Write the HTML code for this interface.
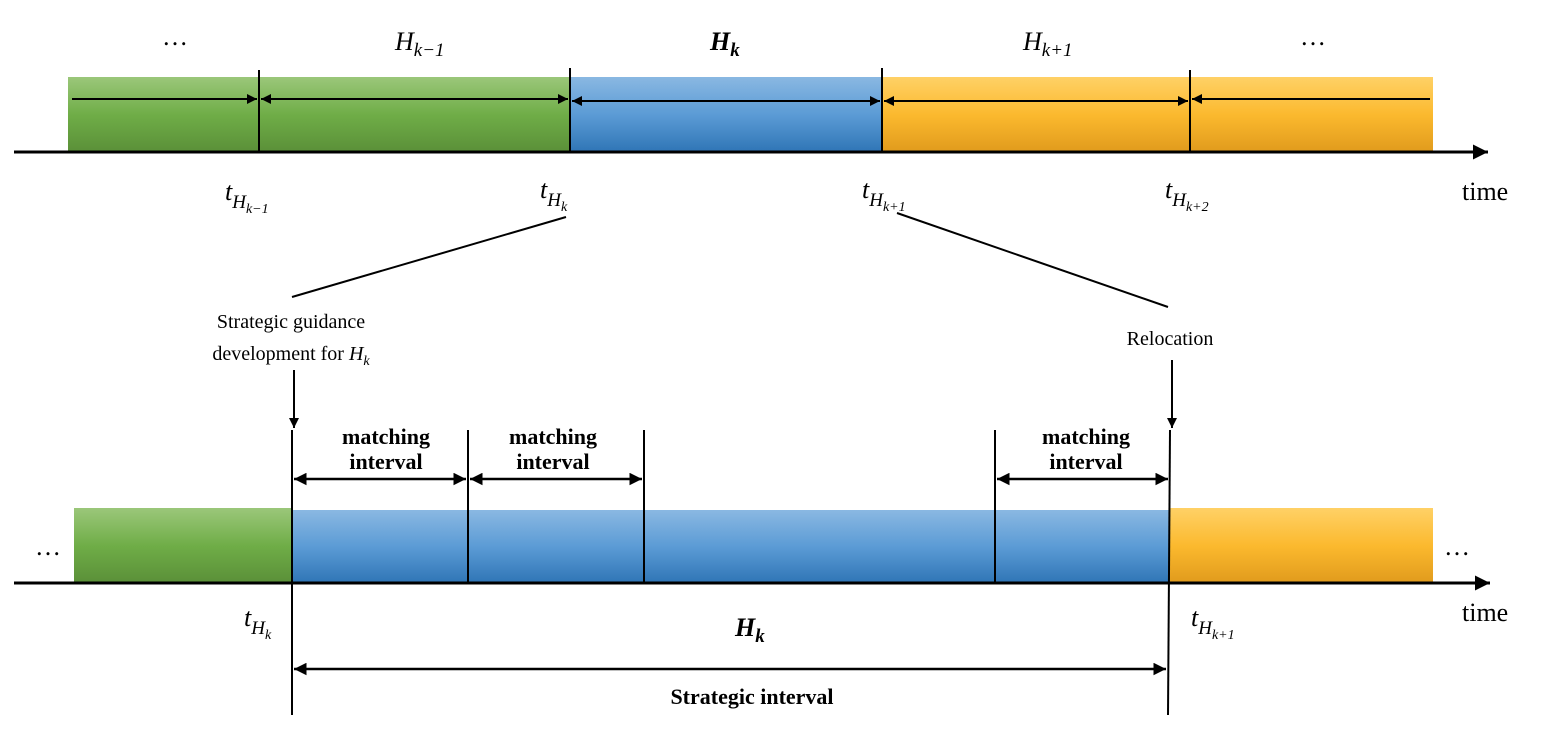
<!DOCTYPE html>
<html><head><meta charset="utf-8"><style>
html,body{margin:0;padding:0;background:#fff;}
svg{display:block;}
text{font-family:"Liberation Serif",serif;fill:#000;}
.m{font-style:italic;}
</style></head><body>
<svg width="1542" height="734" viewBox="0 0 1542 734" xmlns="http://www.w3.org/2000/svg">
<defs>
<linearGradient id="g" x1="0" y1="0" x2="0" y2="1"><stop offset="0" stop-color="#9bc77a"/><stop offset="0.5" stop-color="#6fad47"/><stop offset="1" stop-color="#5a8f38"/></linearGradient>
<linearGradient id="b" x1="0" y1="0" x2="0" y2="1"><stop offset="0" stop-color="#8ab8e2"/><stop offset="0.5" stop-color="#5b9bd5"/><stop offset="1" stop-color="#2e74b5"/></linearGradient>
<linearGradient id="o" x1="0" y1="0" x2="0" y2="1"><stop offset="0" stop-color="#ffd166"/><stop offset="0.5" stop-color="#fbb92e"/><stop offset="1" stop-color="#e09a1c"/></linearGradient>
<marker id="a" viewBox="0 0 10 10" refX="10" refY="5" markerWidth="5" markerHeight="5" orient="auto-start-reverse"><path d="M0,0L10,5L0,10z" fill="#000"/></marker>
</defs>
<!-- top bar -->
<rect x="68" y="77" width="502" height="76" fill="url(#g)"/>
<rect x="570" y="77" width="312" height="76" fill="url(#b)"/>
<rect x="882" y="77" width="551" height="76" fill="url(#o)"/>
<line x1="14" y1="152" x2="1488" y2="152" stroke="#000" stroke-width="3" marker-end="url(#a)"/>
<g stroke="#000" stroke-width="2">
<line x1="259" y1="70" x2="259" y2="153"/><line x1="570" y1="68" x2="570" y2="153"/>
<line x1="882" y1="68" x2="882" y2="153"/><line x1="1190" y1="70" x2="1190" y2="153"/>
</g>
<g stroke="#000" stroke-width="2" marker-end="url(#a)">
<line x1="72" y1="99" x2="257" y2="99"/>
<line x1="568" y1="99" x2="261" y2="99" marker-start="url(#a)"/>
<line x1="572" y1="101" x2="880" y2="101" marker-start="url(#a)"/>
<line x1="884" y1="101" x2="1188" y2="101" marker-start="url(#a)"/>
<line x1="1430" y1="99" x2="1192" y2="99"/>
</g>
<g font-size="26">
<text x="175" y="45" text-anchor="middle">…</text>
<text x="1313" y="45" text-anchor="middle">…</text>
<text x="395" y="50" class="m">H<tspan font-size="19" dy="6">k−1</tspan></text>
<text x="710" y="50" class="m" font-weight="bold">H<tspan font-size="19" dy="6">k</tspan></text>
<text x="1023" y="50" class="m">H<tspan font-size="19" dy="6">k+1</tspan></text>
<text x="225" y="200" class="m">t<tspan font-size="19" dy="8">H</tspan><tspan font-size="14" dy="5">k−1</tspan></text>
<text x="540" y="198" class="m">t<tspan font-size="19" dy="8">H</tspan><tspan font-size="14" dy="5">k</tspan></text>
<text x="862" y="198" class="m">t<tspan font-size="19" dy="8">H</tspan><tspan font-size="14" dy="5">k+1</tspan></text>
<text x="1165" y="198" class="m">t<tspan font-size="19" dy="8">H</tspan><tspan font-size="14" dy="5">k+2</tspan></text>
<text x="1462" y="200">time</text>
</g>
<g stroke="#000" stroke-width="2">
<line x1="566" y1="217" x2="292" y2="297"/>
<line x1="897" y1="213" x2="1168" y2="307"/>
</g>
<g font-size="20" text-anchor="middle">
<text x="291" y="328">Strategic guidance</text>
<text x="291" y="360">development for <tspan class="m">H</tspan><tspan class="m" font-size="14" dy="5">k</tspan></text>
<text x="1170" y="345">Relocation</text>
</g>
<g stroke="#000" stroke-width="2" marker-end="url(#a)">
<line x1="294" y1="370" x2="294" y2="428"/>
<line x1="1172" y1="360" x2="1172" y2="428"/>
</g>
<!-- bottom bar -->
<rect x="74" y="508" width="218" height="76" fill="url(#g)"/>
<rect x="292" y="510" width="878" height="74" fill="url(#b)"/>
<rect x="1170" y="508" width="263" height="76" fill="url(#o)"/>
<line x1="14" y1="583" x2="1490" y2="583" stroke="#000" stroke-width="3" marker-end="url(#a)"/>
<g stroke="#000" stroke-width="2">
<line x1="292" y1="430" x2="292" y2="715"/><line x1="468" y1="430" x2="468" y2="584"/>
<line x1="644" y1="430" x2="644" y2="584"/><line x1="995" y1="430" x2="995" y2="584"/>
<line x1="1170" y1="430" x2="1168" y2="715"/>
</g>
<g stroke="#000" stroke-width="2.5" marker-end="url(#a)" marker-start="url(#a)">
<line x1="294" y1="479" x2="466" y2="479"/>
<line x1="470" y1="479" x2="642" y2="479"/>
<line x1="997" y1="479" x2="1168" y2="479"/>
<line x1="294" y1="669" x2="1166" y2="669"/>
</g>
<g font-size="22" font-weight="bold" text-anchor="middle">
<text x="386" y="444">matching</text><text x="386" y="469">interval</text>
<text x="553" y="444">matching</text><text x="553" y="469">interval</text>
<text x="1086" y="444">matching</text><text x="1086" y="469">interval</text>
<text x="752" y="704">Strategic interval</text>
</g>
<g font-size="26">
<text x="48" y="555" text-anchor="middle">…</text>
<text x="1457" y="555" text-anchor="middle">…</text>
<text x="244" y="626" class="m">t<tspan font-size="19" dy="8">H</tspan><tspan font-size="14" dy="5">k</tspan></text>
<text x="1191" y="626" class="m">t<tspan font-size="19" dy="8">H</tspan><tspan font-size="14" dy="5">k+1</tspan></text>
<text x="735" y="636" class="m" font-weight="bold">H<tspan font-size="19" dy="6">k</tspan></text>
<text x="1462" y="621">time</text>
</g>
</svg>
</body></html>
